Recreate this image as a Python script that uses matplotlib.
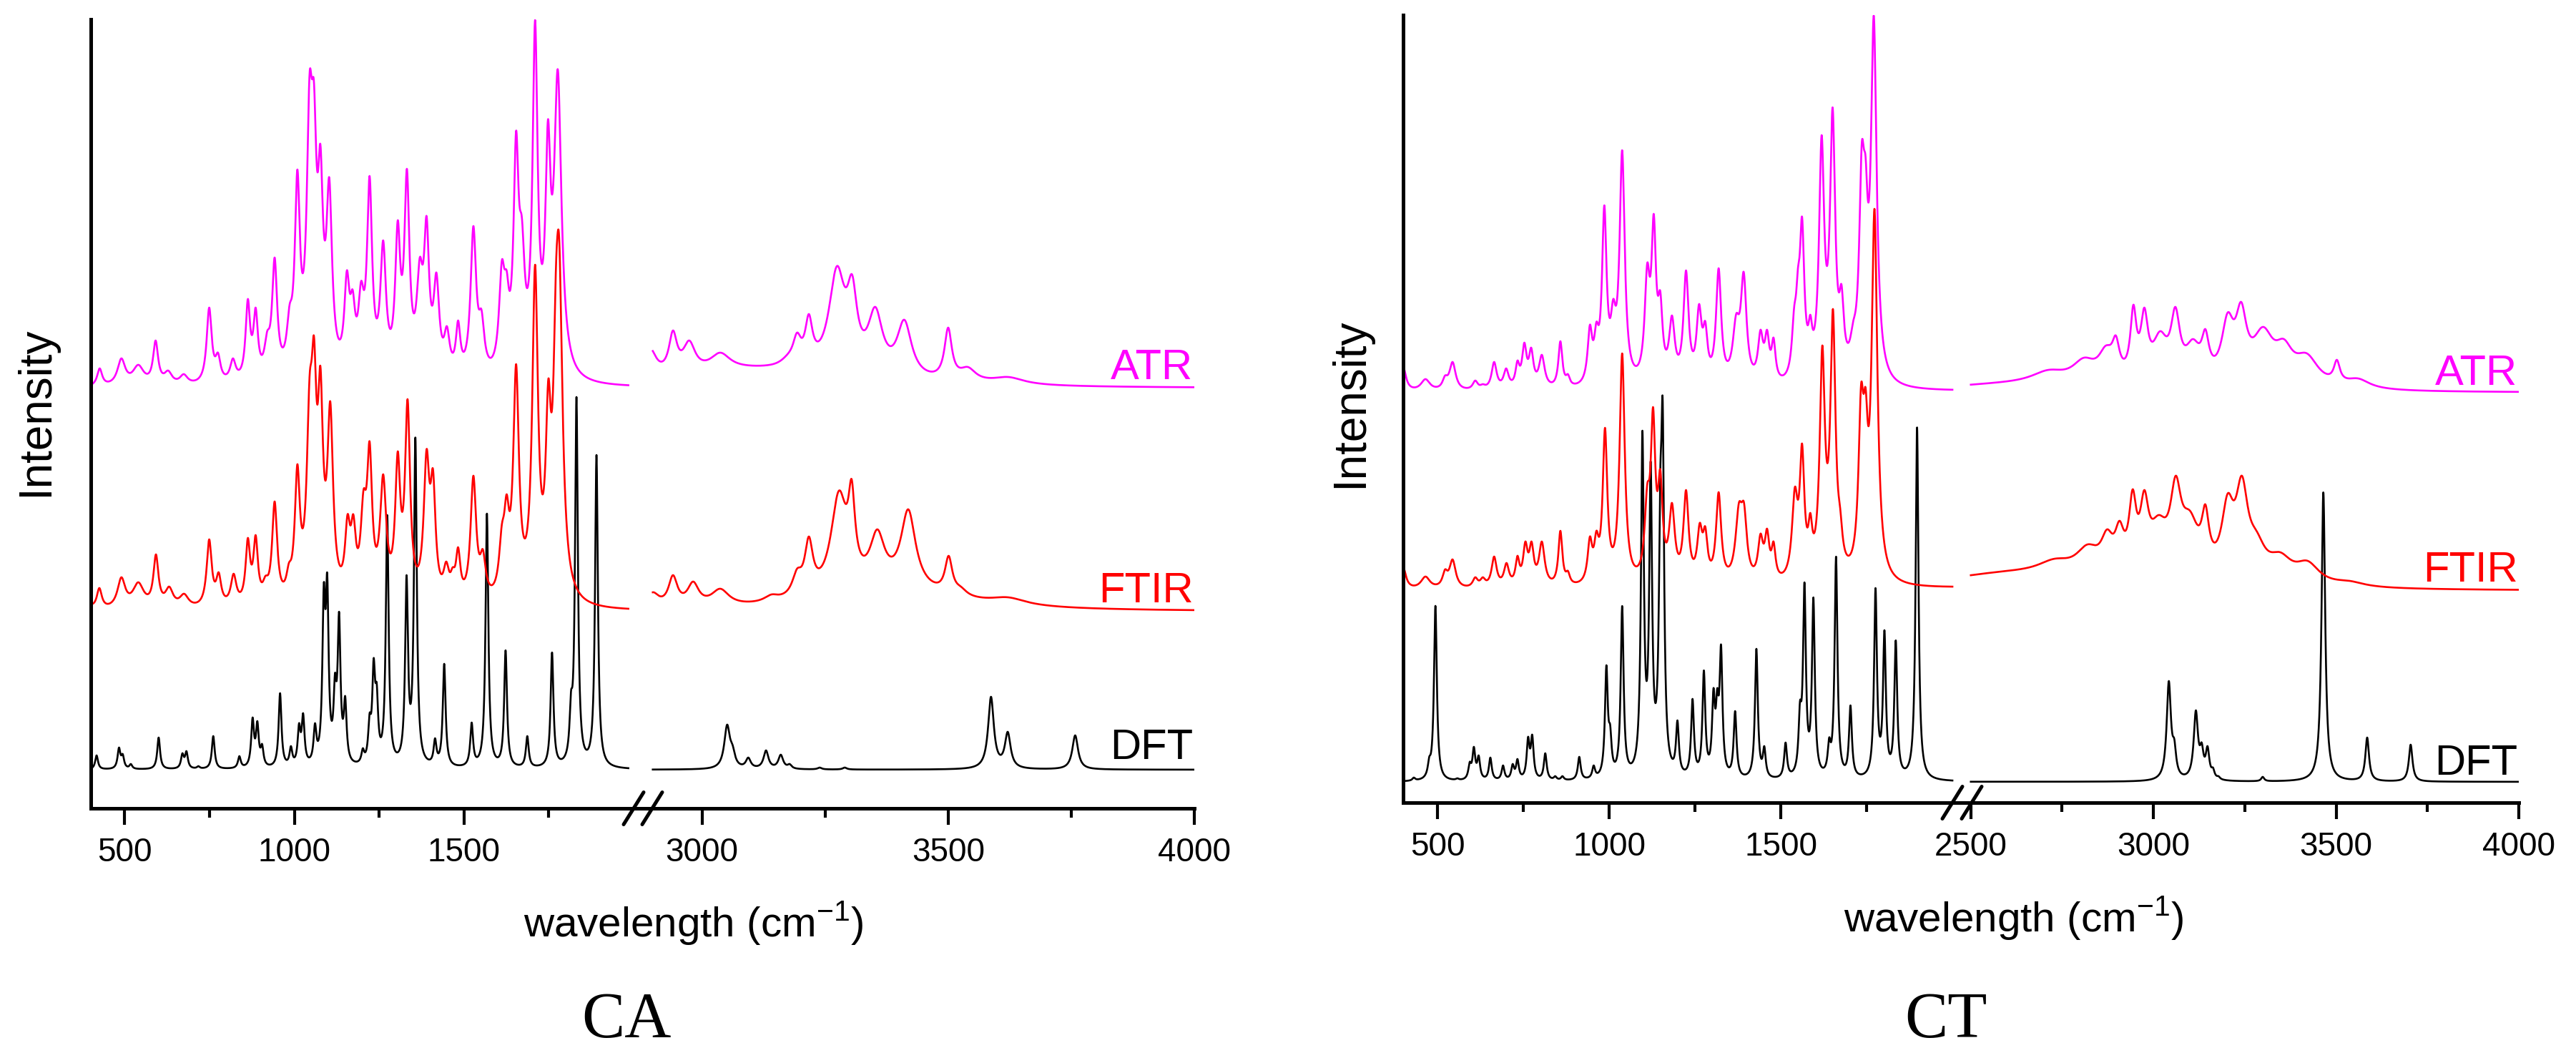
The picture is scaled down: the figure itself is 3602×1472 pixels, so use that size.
import numpy as np
import matplotlib
matplotlib.use("Agg")
import matplotlib.pyplot as plt
from matplotlib.lines import Line2D
from matplotlib.ticker import FixedLocator

plt.rcParams["font.family"] = ["Liberation Sans", "DejaVu Sans"]
plt.rcParams["mathtext.fontset"] = "custom"
plt.rcParams["mathtext.rm"] = "Liberation Sans"

# bands: (centre cm-1, height seen above the trace baseline, half width)
ca_dft = [(417, 20, 5), (483, 31, 5), (494, 22, 5), (518, 8, 5), (600, 45, 5), (670, 23, 5),
          (682, 26, 5), (717, 5, 5), (761, 47, 5), (838, 19, 5), (877, 73, 5), (891, 68, 5),
          (905, 36, 5), (958, 107, 5), (990, 33, 5), (1014, 65, 5), (1026, 79, 5), (1061, 65, 5),
          (1087, 261, 5), (1097, 275, 5), (1120, 135, 5), (1132, 221, 5), (1150, 103, 5), (1202, 30, 5),
          (1222, 79, 5), (1234, 156, 5), (1243, 121, 5), (1274, 356, 5), (1331, 272, 5), (1357, 465, 5),
          (1415, 44, 5), (1442, 148, 5), (1523, 66, 5), (1568, 358, 5), (1623, 167, 5), (1687, 47, 5),
          (1760, 164, 5), (1816, 110, 5), (1832, 521, 5), (1891, 440, 5),
          (3051, 63, 7), (3062, 35, 6), (3094, 17, 6), (3130, 27, 6), (3160, 21, 6), (3178, 8, 5),
          (3239, 3, 5), (3290, 3, 5), (3587, 102, 7), (3621, 53, 7), (3758, 48, 7)]

ca_ftir = [(400, 10, 10), (425, 33, 9), (490, 48, 14), (540, 41, 20), (592, 80, 9), (631, 35, 14),
           (675, 25, 16), (749, 101, 9), (777, 55, 9), (821, 53, 10), (863, 103, 8), (886, 107, 8),
           (915, 50, 10), (942, 154, 9), (984, 68, 9), (1009, 206, 9), (1045, 329, 10), (1058, 385, 9),
           (1077, 343, 9), (1106, 294, 10), (1157, 136, 9), (1174, 136, 9), (1204, 170, 10),
           (1222, 238, 9), (1262, 192, 11), (1305, 224, 9), (1334, 297, 9), (1390, 227, 10),
           (1409, 199, 9), (1448, 70, 10), (1467, 62, 8), (1483, 90, 8), (1528, 190, 10), (1556, 87, 10),
           (1612, 122, 10), (1626, 164, 9), (1654, 346, 10), (1710, 485, 10), (1749, 325, 9),
           (1771, 473, 9), (1781, 522, 12), (1830, 20, 30),
           (2900, 27, 15), (2941, 51, 11), (2982, 42, 14), (3037, 32, 22), (3141, 24, 18),
           (3193, 60, 12), (3217, 105, 10), (3278, 169, 20), (3304, 185, 8), (3356, 115, 18),
           (3386, 77, 150), (3419, 143, 18), (3501, 78, 9), (3526, 35, 15), (3622, 20, 45)]

ca_atr = [(400, 5, 10), (426, 28, 9), (490, 42, 14), (540, 33, 20), (591, 67, 9), (628, 25, 14),
          (674, 20, 14), (749, 113, 9), (775, 50, 9), (819, 42, 10), (863, 125, 8), (886, 113, 8),
          (920, 80, 10), (942, 183, 9), (986, 117, 10), (1009, 306, 9), (1045, 440, 10), (1058, 428, 9),
          (1077, 341, 9), (1103, 295, 10), (1155, 165, 9), (1172, 138, 9), (1197, 150, 10),
          (1222, 297, 9), (1262, 207, 10), (1305, 235, 9), (1332, 307, 9), (1370, 183, 11),
          (1390, 241, 9), (1419, 162, 10), (1450, 87, 10), (1483, 95, 8), (1528, 227, 10),
          (1552, 110, 10), (1612, 179, 10), (1626, 165, 9), (1654, 360, 9), (1671, 239, 10),
          (1710, 515, 9), (1748, 376, 9), (1777, 446, 13),
          (2895, 55, 15), (2941, 81, 10), (2974, 67, 15), (3037, 50, 25), (3100, 32, 200),
          (3175, 49, 20), (3193, 78, 10), (3217, 104, 9), (3274, 171, 20), (3305, 159, 12),
          (3352, 114, 18), (3411, 96, 18), (3500, 85, 9), (3540, 30, 20), (3622, 16, 40)]

ct_dft = [(431, 6, 5), (476, 35, 5), (494, 246, 5), (558, 5, 5), (594, 28, 5), (606, 49, 5),
          (620, 37, 5), (654, 34, 5), (691, 23, 5), (719, 25, 5), (733, 32, 5), (764, 63, 5),
          (776, 66, 5), (814, 40, 5), (843, 8, 5), (864, 8, 5), (913, 35, 5), (955, 23, 5),
          (992, 163, 5), (1003, 80, 5), (1038, 246, 5), (1072, 20, 5), (1097, 491, 5), (1121, 448, 5),
          (1149, 434, 5), (1156, 535, 5), (1199, 86, 5), (1243, 116, 5), (1276, 156, 5), (1304, 131, 5),
          (1315, 131, 5), (1326, 192, 5), (1367, 99, 5), (1429, 186, 5), (1452, 50, 5), (1514, 55, 5),
          (1556, 113, 5), (1569, 279, 5), (1595, 258, 5), (1641, 62, 5), (1661, 315, 5), (1703, 107, 5),
          (1776, 271, 5), (1802, 212, 5), (1835, 198, 5), (1897, 496, 5),
          (3042, 141, 7), (3057, 60, 6), (3116, 100, 7), (3132, 55, 6), (3148, 50, 6), (3163, 20, 5),
          (3178, 8, 5), (3299, 7, 5), (3465, 405, 6), (3585, 62, 6), (3704, 52, 6)]

ct_ftir = [(400, 33, 10), (465, 20, 16), (522, 30, 9), (544, 44, 11), (610, 19, 9), (632, 19, 9),
           (665, 48, 9), (701, 39, 9), (733, 49, 7), (756, 69, 8), (774, 69, 8), (804, 69, 10),
           (858, 84, 7), (880, 28, 7), (944, 76, 8), (963, 84, 8), (988, 228, 8), (1017, 60, 9),
           (1038, 332, 9), (1111, 149, 9), (1128, 257, 8), (1149, 170, 8), (1183, 123, 10),
           (1224, 141, 9), (1264, 95, 9), (1280, 90, 8), (1319, 138, 9), (1378, 123, 12),
           (1393, 123, 10), (1441, 80, 9), (1460, 87, 8), (1479, 69, 7), (1541, 145, 10),
           (1562, 206, 8), (1586, 109, 7), (1621, 343, 9), (1652, 394, 9), (1673, 116, 8),
           (1734, 289, 9), (1747, 284, 8), (1773, 534, 10),
           (2600, 28, 250), (2730, 45, 60), (2820, 65, 40), (2873, 86, 20), (2907, 98, 15),
           (2943, 142, 12), (2975, 141, 14), (3014, 106, 30), (3061, 161, 18), (3100, 112, 30),
           (3142, 121, 12), (3203, 136, 20), (3242, 161, 20), (3282, 84, 30), (3347, 54, 40),
           (3422, 42, 40), (3537, 14, 50)]

ct_atr = [(400, 36, 10), (465, 19, 16), (522, 24, 9), (544, 43, 11), (610, 17, 9), (632, 12, 9),
          (665, 43, 9), (700, 34, 9), (733, 45, 7), (753, 70, 8), (773, 63, 8), (804, 53, 10),
          (858, 72, 7), (880, 26, 7), (944, 95, 8), (963, 99, 8), (986, 262, 8), (1012, 131, 9),
          (1038, 339, 9), (1111, 181, 9), (1130, 250, 8), (1149, 142, 8), (1183, 108, 10),
          (1224, 171, 9), (1262, 124, 9), (1280, 100, 8), (1319, 174, 9), (1370, 110, 12),
          (1392, 169, 10), (1441, 88, 9), (1460, 88, 8), (1479, 77, 7), (1539, 120, 8),
          (1550, 174, 7), (1562, 246, 8), (1586, 109, 7), (1619, 360, 9), (1651, 399, 9),
          (1677, 151, 8), (1711, 100, 11), (1736, 349, 9), (1747, 330, 8), (1771, 527, 10),
          (2600, 16, 250), (2713, 32, 60), (2810, 49, 40), (2870, 66, 25), (2897, 80, 12),
          (2945, 123, 10), (2975, 119, 12), (3018, 86, 25), (3060, 120, 15), (3108, 75, 25),
          (3142, 89, 12), (3203, 112, 20), (3240, 127, 18), (3300, 92, 35), (3357, 75, 30),
          (3420, 55, 40), (3502, 46, 10), (3560, 20, 40)]

# trace baselines (DFT, FTIR, ATR)
ca_offsets = [54, 275, 587]
ct_offsets = [29, 296, 573]
names = ["DFT", "FTIR", "ATR"]
colors = ["black", "#ff0000", "#ff00ff"]

# wavenumber ranges covered by each half of the broken axis
ca_lo_range, ca_hi_range = (400, 1985), (2900, 4000)
ct_lo_range, ct_hi_range = (400, 2000), (2500, 4000)


def spectrum(x, bands):
    c, a, w = np.array(bands, dtype=float).T
    # unmix overlapping Lorentzians so the summed trace passes the read peak heights
    m = 1 / (1 + ((c[:, None] - c[None, :]) / w[None, :]) ** 2)
    h = a.copy()
    for _ in range(400):
        h = np.clip(h + 0.5 * (a - m @ h), 0, None)
    return (h[None, :] / (1 + ((x[:, None] - c[None, :]) / w[None, :]) ** 2)).sum(axis=1)


W, H = 3602, 1472
fig = plt.figure(figsize=(W / 100, H / 100), dpi=100)


def fx(px):
    return px / W


def fy(py):
    return 1 - py / H


def panel(x0, xb, x1, ytop, yax, lo_lim, hi_lim, lo_rng, hi_rng, traces, offsets,
          hi_major, hi_minor, label_y, ymax):
    ax1 = fig.add_axes([fx(x0), fy(yax), fx(xb - x0), (yax - ytop) / H])
    ax2 = fig.add_axes([fx(xb), fy(yax), fx(x1 - xb), (yax - ytop) / H])
    xl = np.linspace(lo_rng[0], lo_rng[1], 4000)
    xh = np.linspace(hi_rng[0], hi_rng[1], 3000)
    for bands, off, col in zip(traces, offsets, colors):
        ax1.plot(xl, spectrum(xl, bands) + off, color=col, lw=1.9)
        ax2.plot(xh, spectrum(xh, bands) + off, color=col, lw=1.9)
    ax1.set_xlim(*lo_lim)
    ax2.set_xlim(*hi_lim)
    for ax in (ax1, ax2):
        ax.set_ylim(0, ymax)
        ax.set_yticks([])
        ax.spines["top"].set_visible(False)
        ax.spines["right"].set_visible(False)
        ax.spines["bottom"].set_linewidth(3.6)
        ax.spines["left"].set_linewidth(3.6)
        ax.tick_params(axis="x", which="major", direction="out", length=16.5, width=3,
                       labelsize=33, pad=12)
        ax.tick_params(axis="x", which="minor", direction="out", length=9.5, width=3)
        ax.patch.set_alpha(0)
    ax2.spines["left"].set_visible(False)
    ax1.xaxis.set_major_locator(FixedLocator([500, 1000, 1500]))
    ax1.xaxis.set_minor_locator(FixedLocator([750, 1250, 1750]))
    ax2.xaxis.set_major_locator(FixedLocator(hi_major))
    ax2.xaxis.set_minor_locator(FixedLocator(hi_minor))
    for name, col, yl in zip(names, colors, label_y):
        ax2.text(0.998, yl, name, color=col, fontsize=43, ha="right", va="baseline",
                 transform=ax2.get_yaxis_transform())
    return ax1, ax2


panel(127, 899, 1670, 27, 1130, (400, 2028), (2880, 4000), ca_lo_range, ca_hi_range,
      [ca_dft, ca_ftir, ca_atr], ca_offsets, [3000, 3500, 4000], [3250, 3750],
      [69, 288, 600], 1103)
panel(1962, 2743, 3522, 21, 1122, (400, 2027), (2475, 4000), ct_lo_range, ct_hi_range,
      [ct_dft, ct_ftir, ct_atr], ct_offsets, [2500, 3000, 3500, 4000], [2750, 3250, 3750],
      [39, 309, 584], 1101)

# axis break marks
for cx, cy in [(886, 1130), (912, 1130), (2730, 1122), (2757, 1122)]:
    fig.add_artist(Line2D([fx(cx - 14), fx(cx + 14)], [fy(cy + 22.5), fy(cy - 22.5)],
                          color="black", lw=3.6, solid_capstyle="round"))

for cx, by in [(970, 1310), (2816, 1303)]:
    fig.text(fx(cx), fy(by), "wavelength (cm$^{\\mathregular{-1}}$)", ha="center",
             va="baseline", fontsize=42)
for cx, cy in [(50, 575), (1888, 563)]:
    fig.text(fx(cx), fy(cy), "Intensity", ha="center", va="center", rotation=90, fontsize=46)
for cx, t in [(876, "CA"), (2721, "CT")]:
    fig.text(fx(cx), fy(1450), t, ha="center", va="baseline", fontsize=65,
             family=["Liberation Serif", "DejaVu Serif"])

fig.savefig("out.png", dpi=100)
